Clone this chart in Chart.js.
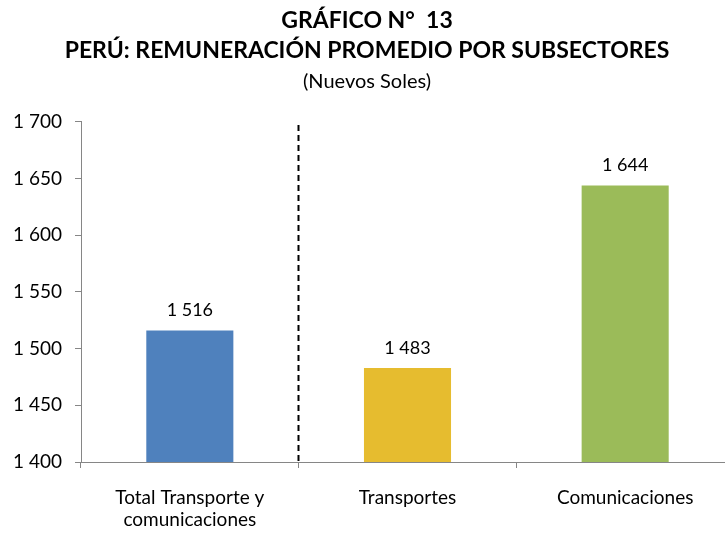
<!DOCTYPE html>
<html>
<head>
<meta charset="utf-8">
<script src="https://cdn.jsdelivr.net/npm/chart.js@4/dist/chart.umd.min.js"></script>
<style>
html,body{margin:0;padding:0;background:#fff;overflow:hidden;}
#wrap{width:725px;height:534px;overflow:hidden;}
#box{width:734px;height:534px;}
</style>
</head>
<body>
<div id="wrap"><div id="box"><canvas id="c"></canvas></div></div>
<script>
const categories = [["Total Transporte y", "comunicaciones"], "Transportes", "Comunicaciones"];
const values = [1516, 1483, 1644];
const barColors = ["#4F81BD", "#E6BC2F", "#9BBB59"];
const yTicks = [1400, 1450, 1500, 1550, 1600, 1650, 1700];
const titleLines = ["GRÁFICO N°  13", "PERÚ: REMUNERACIÓN PROMEDIO POR SUBSECTORES"];
const subtitleText = "(Nuevos Soles)";

const FONT = "Lato, 'Open Sans', sans-serif";
function fmt(v){ return String(v).replace(/\B(?=(\d{3})+(?!\d))/g, " "); }

const labelPlugin = {
  id: "valueLabels",
  afterDatasetsDraw(chart){
    const ctx = chart.ctx;
    const meta = chart.getDatasetMeta(0);
    ctx.save();
    ctx.font = "18px " + FONT;
    ctx.fillStyle = "#000";
    ctx.textAlign = "center";
    ctx.textBaseline = "middle";
    meta.data.forEach((bar, i) => {
      ctx.fillText(fmt(values[i]), bar.x, bar.y - 20);
    });
    ctx.restore();
  }
};

const dividerPlugin = {
  id: "divider",
  afterDatasetsDraw(chart){
    const xs = chart.scales.x, ys = chart.scales.y;
    const x = Math.round((xs.getPixelForValue(0) + xs.getPixelForValue(1)) / 2) - 0.5;
    const ctx = chart.ctx;
    ctx.save();
    ctx.strokeStyle = "#000";
    ctx.lineWidth = 2;
    ctx.setLineDash([6, 4]);
    ctx.beginPath();
    ctx.moveTo(x, ys.getPixelForValue(1700) + 3);
    ctx.lineTo(x, ys.getPixelForValue(1400));
    ctx.stroke();
    ctx.restore();
  }
};

new Chart(document.getElementById("c"), {
  type: "bar",
  data: {
    labels: categories,
    datasets: [{
      data: values,
      backgroundColor: barColors,
      borderWidth: 0,
      barPercentage: 0.4,
      categoryPercentage: 1.0
    }]
  },
  options: {
    responsive: true,
    maintainAspectRatio: false,
    animation: false,
    layout: { padding: { top: 0, right: 0, left: 0, bottom: 0 } },
    plugins: {
      legend: { display: false },
      tooltip: { enabled: false },
      title: {
        display: true,
        text: titleLines,
        color: "#000",
        font: { family: FONT, size: 23, weight: "bold", lineHeight: 1.326 },
        padding: { top: 5, bottom: 0 }
      },
      subtitle: {
        display: true,
        text: subtitleText,
        color: "#000",
        font: { family: FONT, size: 20, lineHeight: 1.35 },
        padding: { top: 2, bottom: 27 }
      }
    },
    scales: {
      x: {
        grid: { display: true, offset: true, drawOnChartArea: false, tickLength: 6, color: "#868686" },
        border: { color: "#868686" },
        ticks: { color: "#000", font: { family: FONT, size: 19, lineHeight: 1.2 }, padding: 18, maxRotation: 0, autoSkip: false },
        afterFit(s){ s.height = 72; }
      },
      y: {
        min: 1400, max: 1700,
        grid: { display: true, drawOnChartArea: false, tickLength: 6, color: "#868686" },
        border: { color: "#868686" },
        afterBuildTicks(s){ s.ticks = yTicks.map(v => ({ value: v })); },
        ticks: { color: "#000", font: { family: FONT, size: 19 }, padding: 13, callback: v => fmt(v) },
        afterFit(s){ s.width = 81; }
      }
    }
  },
  plugins: [labelPlugin, dividerPlugin]
});
</script>
</body>
</html>
